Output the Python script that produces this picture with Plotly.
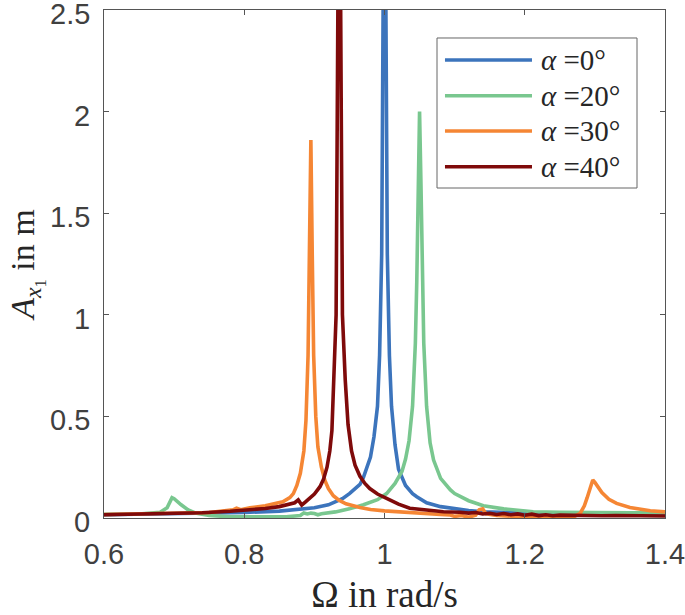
import plotly.graph_objects as go

# ---------------- data ----------------
series_names = ["α =0°", "α =20°", "α =30°", "α =40°"]
series_colors = ["#3C74BC", "#79C78F", "#F58634", "#7F0A0A"]

x_ticks = [0.6, 0.8, 1.0, 1.2, 1.4]
x_tick_labels = ["0.6", "0.8", "1", "1.2", "1.4"]
y_ticks = [0, 0.5, 1, 1.5, 2, 2.5]
y_tick_labels = ["0", "0.5", "1", "1.5", "2", "2.5"]

omega_a0 = [0.60, 0.65, 0.70, 0.75, 0.80, 0.85, 0.87, 0.90, 0.92, 0.94, 0.95, 0.96,
            0.965, 0.97, 0.975, 0.98, 0.985, 0.99, 0.993, 0.996, 0.998, 1.000, 1.002,
            1.004, 1.007, 1.010, 1.015, 1.020, 1.030, 1.040, 1.046, 1.060, 1.080,
            1.094, 1.120, 1.141, 1.200, 1.250, 1.300, 1.350, 1.400]
amp_a0 = [0.016, 0.018, 0.020, 0.023, 0.027, 0.034, 0.040, 0.050, 0.065, 0.095, 0.120, 0.150,
          0.165, 0.200, 0.250, 0.300, 0.400, 0.550, 0.800, 1.300, 2.500, 8.000, 2.500,
          1.300, 0.800, 0.550, 0.360, 0.240, 0.160, 0.120, 0.105, 0.075, 0.056,
          0.048, 0.037, 0.031, 0.023, 0.019, 0.017, 0.015, 0.014]

omega_a20 = [0.60, 0.65, 0.68, 0.69, 0.697, 0.70, 0.71, 0.72, 0.73, 0.75, 0.78, 0.82,
             0.86, 0.88, 0.885, 0.89, 0.895, 0.90, 0.905, 0.91, 0.93, 0.95, 0.97, 0.99,
             1.003, 1.015, 1.025, 1.030, 1.035, 1.040, 1.044, 1.046, 1.048, 1.050, 1.052,
             1.054, 1.056, 1.060, 1.065, 1.070, 1.080, 1.094, 1.100, 1.120, 1.141, 1.170,
             1.212, 1.250, 1.310, 1.350, 1.400]
amp_a20 = [0.018, 0.020, 0.028, 0.050, 0.100, 0.095, 0.065, 0.040, 0.025, 0.012, 0.006, 0.004,
           0.006, 0.012, 0.025, 0.020, 0.024, 0.022, 0.016, 0.021, 0.030, 0.045, 0.065, 0.090,
           0.120, 0.170, 0.230, 0.290, 0.380, 0.550, 0.860, 1.160, 1.640, 2.000, 1.640,
           1.160, 0.860, 0.550, 0.370, 0.285, 0.195, 0.138, 0.120, 0.085, 0.060, 0.045,
           0.031, 0.028, 0.025, 0.025, 0.026]

omega_a30 = [0.60, 0.70, 0.75, 0.784, 0.789, 0.795, 0.808, 0.83, 0.855, 0.865, 0.870, 0.875,
             0.880, 0.885, 0.888, 0.891, 0.893, 0.895, 0.897, 0.899, 0.902, 0.905, 0.910,
             0.915, 0.920, 0.927, 0.935, 0.945, 0.965, 0.980, 1.000, 1.037, 1.060, 1.080,
             1.094, 1.100, 1.110, 1.120, 1.130, 1.135, 1.140, 1.145, 1.160, 1.180, 1.200,
             1.220, 1.240, 1.260, 1.270, 1.279, 1.285, 1.289, 1.294, 1.297, 1.300, 1.310,
             1.320, 1.331, 1.350, 1.379, 1.400]
amp_a30 = [0.017, 0.022, 0.027, 0.040, 0.048, 0.041, 0.050, 0.060, 0.080, 0.100, 0.120, 0.160,
           0.220, 0.330, 0.480, 0.800, 1.290, 1.860, 1.290, 0.800, 0.500, 0.350, 0.250,
           0.185, 0.145, 0.110, 0.088, 0.070, 0.052, 0.042, 0.035, 0.025, 0.020, 0.017,
           0.015, 0.008, 0.012, 0.004, 0.014, 0.040, 0.045, 0.020, 0.012, 0.008, 0.006,
           0.003, 0.001, 0.002, 0.006, 0.023, 0.060, 0.100, 0.165, 0.187, 0.175, 0.125,
           0.092, 0.072, 0.052, 0.036, 0.030]

omega_a40 = [0.600, 0.650, 0.700, 0.740, 0.780, 0.810, 0.830, 0.850, 0.865, 0.872, 0.877,
             0.882, 0.887, 0.894, 0.900, 0.908, 0.913, 0.918, 0.922, 0.925, 0.928, 0.931,
             0.9335, 0.9355, 0.9375, 0.940, 0.944, 0.948, 0.953, 0.958, 0.965, 0.972, 0.979,
             0.990, 1.003, 1.020, 1.036, 1.060, 1.084, 1.107, 1.120, 1.130, 1.140, 1.150,
             1.160, 1.170, 1.180, 1.190, 1.200, 1.210, 1.220, 1.230, 1.240, 1.250, 1.270,
             1.290, 1.310, 1.330, 1.360, 1.400]
amp_a40 = [0.016, 0.019, 0.023, 0.026, 0.033, 0.040, 0.047, 0.056, 0.066, 0.075, 0.089,
           0.064, 0.078, 0.097, 0.118, 0.154, 0.190, 0.250, 0.330, 0.430, 0.680, 1.000,
           2.500, 8.000, 2.500, 1.000, 0.680, 0.460, 0.330, 0.260, 0.205, 0.170, 0.145,
           0.118, 0.097, 0.068, 0.048, 0.038, 0.031, 0.028, 0.024, 0.027, 0.020, 0.023,
           0.017, 0.022, 0.016, 0.020, 0.014, 0.019, 0.012, 0.016, 0.011, 0.014, 0.012,
           0.013, 0.011, 0.012, 0.010, 0.010]

x_data = [omega_a0, omega_a20, omega_a30, omega_a40]
y_data = [amp_a0, amp_a20, amp_a30, amp_a40]

# ---------------- figure ----------------
TXT = "#404040"
AX = "#555555"
SERIF = "Liberation Serif, DejaVu Serif, serif"
SANS = "Liberation Sans, Arial, sans-serif"

fig = go.Figure()
for name, col, xs, ys in zip(series_names, series_colors, x_data, y_data):
    fig.add_trace(go.Scatter(x=xs, y=ys, mode="lines", name=name,
                             line=dict(color=col, width=3.6), showlegend=False))

axis_common = dict(ticks="inside", ticklen=5, tickwidth=1, tickcolor=AX,
                   showline=True, linecolor=AX, linewidth=1, mirror="ticks",
                   showgrid=False, zeroline=False, ticklabeloverflow="allow",
                   tickfont=dict(family=SANS, size=29, color=TXT))

fig.update_xaxes(range=[0.6, 1.4], tickvals=x_ticks, ticktext=x_tick_labels,
                 ticklabelstandoff=10, automargin=False,
                 title=dict(text="Ω in rad/s", font=dict(family=SERIF, size=37, color="#262626"),
                            standoff=16),
                 **axis_common)
# y tick labels are drawn as annotations (slightly below the ticks, as in the reference)
fig.update_yaxes(range=[0, 2.5], tickvals=y_ticks, showticklabels=False,
                 automargin=False,
                 title=dict(text="<i>A</i><sub><i>x</i><sub>1</sub></sub> in m",
                            font=dict(family=SERIF, size=34, color="#262626"),
                            standoff=58),
                 **axis_common)

annotations = []
for yv, lab in zip(y_ticks, y_tick_labels):
    annotations.append(dict(xref="paper", yref="y", x=0, y=yv, text=lab,
                            xanchor="right", yanchor="middle", xshift=-12, yshift=-4,
                            showarrow=False, font=dict(family=SANS, size=29, color=TXT)))

# custom legend (long line samples as in the reference)
x0_box, x1_box, y0_box, y1_box = 0.5936, 0.9501, 0.6496, 0.9449
row_y = [0.9016, 0.8313, 0.7618, 0.6915]
shapes = [dict(type="rect", xref="paper", yref="paper", x0=x0_box, x1=x1_box,
               y0=y0_box, y1=y1_box, line=dict(color="#666666", width=1),
               fillcolor="white", layer="above")]
for name, col, ry in zip(series_names, series_colors, row_y):
    shapes.append(dict(type="line", xref="paper", yref="paper", x0=0.6078, x1=0.7629,
                       y0=ry, y1=ry, line=dict(color=col, width=3.6), layer="above"))
    annotations.append(dict(xref="paper", yref="paper", x=0.7754, y=ry,
                            xanchor="left", yanchor="middle", showarrow=False,
                            text="<i>α</i> " + name.split(" ", 1)[1],
                            font=dict(family=SERIF, size=29, color="#262626")))

fig.update_layout(width=685, height=615, margin=dict(l=104, r=20, t=10, b=97),
                  paper_bgcolor="white", plot_bgcolor="white",
                  shapes=shapes, annotations=annotations, showlegend=False)

fig.write_html("out.html", config={"displayModeBar": False},
               post_script="document.body.style.margin='0px';")
